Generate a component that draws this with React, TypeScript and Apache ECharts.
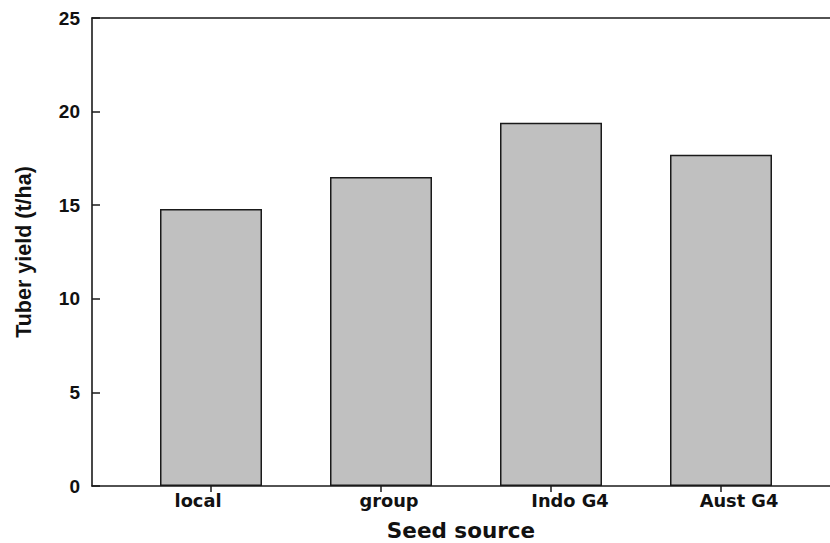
import React, { useEffect, useRef } from "react";
import * as echarts from "echarts";

const categories = ["local", "group", "Indo G4", "Aust G4"];
const yieldValues = [14.8, 16.5, 19.4, 17.7];
const yTicks = [0, 5, 10, 15, 20, 25];
const xTitle = "Seed source";
const yTitle = "Tuber yield (t/ha)";

// horizontal nudges of the category labels relative to their ticks (style only)
const labelNudge = [-13, 8, 19, 18];

const ARIAL = "'Liberation Sans', Arial, Helvetica, sans-serif";
const WIDE = "'DejaVu Sans', 'Liberation Sans', Arial, sans-serif";

export default function App() {
  const ref = useRef<HTMLDivElement>(null);
  useEffect(() => {
    if (!ref.current) return;
    const chart = echarts.init(ref.current, undefined, { renderer: "svg" });
    const axisLine = { show: true, lineStyle: { color: "#1a1a1a", width: 1.6 } };
    const rich: Record<string, any> = {};
    labelNudge.forEach((n, i) => {
      rich["c" + i] = {
        fontFamily: WIDE,
        fontWeight: "bold",
        fontSize: 17.8,
        color: "#111",
        padding: n >= 0 ? [0, 0, 0, 2 * n] : [0, -2 * n, 0, 0],
      };
    });
    chart.setOption({
      animation: false,
      backgroundColor: "#ffffff",
      grid: [
        { left: 92, right: 0, top: 18, bottom: 57, containLabel: false, outerBoundsMode: "none" },
        { left: 126, width: 680, top: 18, bottom: 57, containLabel: false, outerBoundsMode: "none" },
      ],
      xAxis: [
        {
          type: "value",
          gridIndex: 0,
          min: 0,
          max: 1,
          position: "bottom",
          axisLine,
          axisTick: { show: false },
          axisLabel: { show: false },
          splitLine: { show: false },
          name: xTitle,
          nameLocation: "middle",
          nameGap: 33,
          nameTextStyle: { fontFamily: WIDE, fontWeight: "bold", fontSize: 21.5, color: "#111" },
        },
        {
          type: "value",
          gridIndex: 0,
          min: 0,
          max: 1,
          position: "top",
          axisLine,
          axisTick: { show: false },
          axisLabel: { show: false },
          splitLine: { show: false },
        },
        {
          type: "category",
          gridIndex: 1,
          data: categories,
          axisLine: { show: false },
          axisTick: { show: true, alignWithLabel: true, length: 6, lineStyle: { color: "#1a1a1a", width: 1.5 } },
          axisLabel: {
            margin: 5,
            formatter: (v: string, i: number) => `{c${i}|${v}}`,
            rich,
          },
          splitLine: { show: false },
        },
      ],
      yAxis: [
        {
          type: "value",
          gridIndex: 0,
          min: yTicks[0],
          max: yTicks[yTicks.length - 1],
          interval: 5,
          axisLine,
          axisTick: { show: true, inside: true, length: 8, lineStyle: { color: "#1a1a1a", width: 1.5 } },
          axisLabel: { margin: 12, fontFamily: ARIAL, fontWeight: "bold", fontSize: 19, color: "#111" },
          splitLine: { show: false },
          name: yTitle,
          nameLocation: "middle",
          nameGap: 57,
          nameTextStyle: { fontFamily: ARIAL, fontWeight: "bold", fontSize: 21.5, color: "#111" },
        },
        {
          type: "value",
          gridIndex: 1,
          min: yTicks[0],
          max: yTicks[yTicks.length - 1],
          show: false,
        },
      ],
      series: [
        {
          type: "bar",
          xAxisIndex: 2,
          yAxisIndex: 1,
          data: yieldValues,
          barWidth: "60%",
          itemStyle: { color: "#c0c0c0", borderColor: "#1a1a1a", borderWidth: 1.5 },
        },
      ],
    });
    return () => chart.dispose();
  }, []);
  return (
    <div
      ref={ref}
      style={{ position: "fixed", left: 0, top: 0, width: 830, height: 543, background: "#fff" }}
    />
  );
}
